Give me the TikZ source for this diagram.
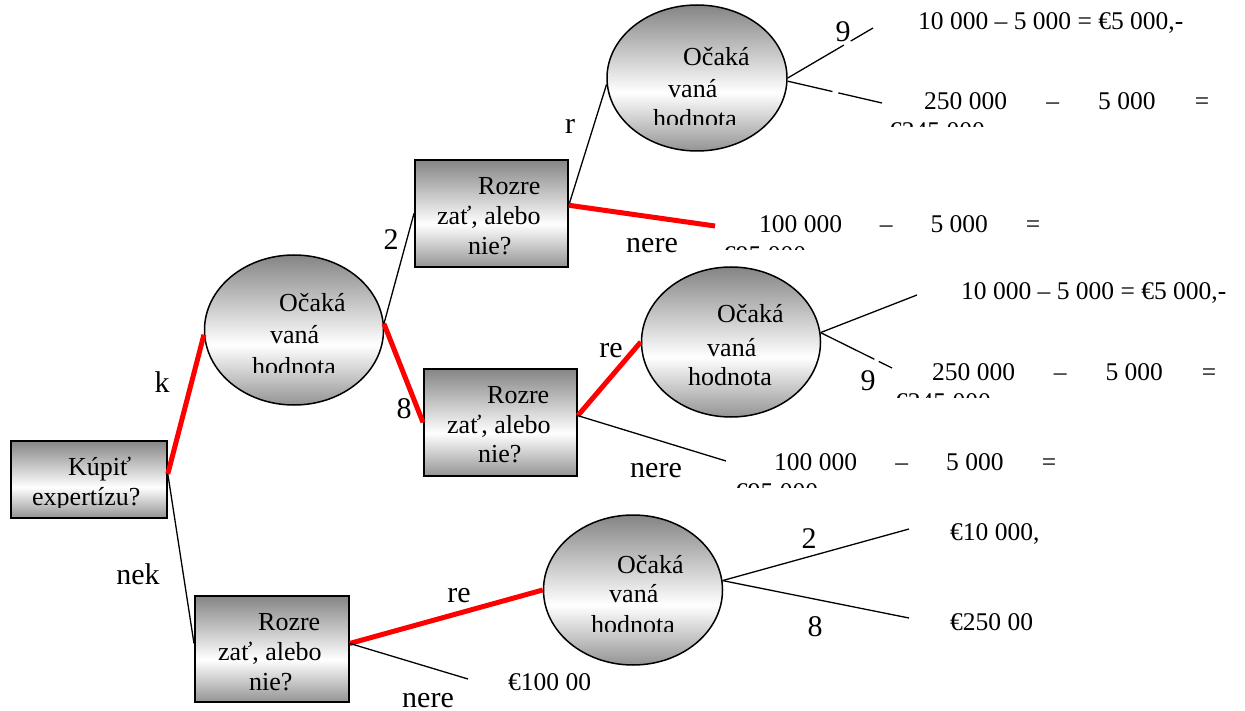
\documentclass[tikz,border=0pt]{standalone}
\usepackage{fontspec}
\setmainfont{Liberation Serif}
\usetikzlibrary{shapes.geometric}
% grey -> white -> grey vertical fill used by all decision and chance nodes
\pgfdeclareverticalshading{nodeshade}{100bp}{color(0bp)=(black!42); color(25bp)=(black!42); color(45bp)=(white); color(75bp)=(black!48); color(100bp)=(black!48)}

\begin{document}
\begin{tikzpicture}[x=1pt,y=-1pt,
  decision/.style={draw=black, line width=1.8pt, rectangle, shading=nodeshade, inner sep=0, anchor=north west},
  chance/.style={draw=black, line width=1.5pt, ellipse, shading=nodeshade, inner sep=0, minimum width=179pt, minimum height=150pt},
  conn/.style={line width=1.3pt, black},
  best/.style={line width=5pt, red},
  nodetext/.style={font=\fontsize{26}{30}\selectfont, inner sep=0, anchor=base west},
  pay/.style={font=\fontsize{25.5}{29}\selectfont, inner sep=0, anchor=base west},
  lab/.style={font=\fontsize{30}{36}\selectfont, inner sep=0, anchor=base}]

\useasboundingbox (0,0) rectangle (1245,711);

% ---- decision boxes ----
\node[decision, minimum width=156pt, minimum height=77pt] (A) at (10,440) {};
\node[decision, minimum width=153pt, minimum height=107pt] (B1) at (414,159) {};
\node[decision, minimum width=153pt, minimum height=107pt] (B2) at (423,368) {};
\node[decision, minimum width=154pt, minimum height=106pt] (B3) at (194,595) {};

% ---- chance nodes ----
\node[chance] (E1) at (294,330) {};
\node[chance, minimum width=180pt, minimum height=146pt] (E2) at (697,78) {};
\node[chance] (E3) at (731,342) {};
\node[chance] (E4) at (633,590) {};

% ---- free ends of branches ----
\coordinate (E2a) at (873,28);
\coordinate (E2b) at (882,103);
\coordinate (E3a) at (917,295);
\coordinate (E3b) at (892,368);
\coordinate (E4a) at (909,529);
\coordinate (E4b) at (909,618);
\coordinate (B1n) at (715,226);
\coordinate (B2n) at (726,461);
\coordinate (B3n) at (468,679);

% ---- connectors ----
\draw[conn] (A.4) -- (B3.176);
\draw[best] (A.4) -- (E1.183);
\draw[conn] (E1.4) -- (B1.west);
\draw[best] (E1.4) -- (B2.west);
\draw[conn] (B1.6) -- (E2.184);
\draw[best] (B1.6) -- (B1n);
\draw[best] (B2.5) -- (E3.west);
\draw[conn] (B2.5) -- (B2n);
\draw[best] (B3.4) -- (E4.west);
\draw[conn] (B3.4) -- (B3n);
\draw[conn, dash pattern=on 65pt off 8pt on 200pt] (E2.east) -- (E2a);
\draw[conn, dash pattern=on 46pt off 6pt on 200pt] (E2.-2) -- (E2b);
\draw[conn] (E3.6) -- (E3a);
\draw[conn, dash pattern=on 60pt off 5pt on 200pt] (E3.6) -- (E3b);
\draw[conn] (E4.6) -- (E4a);
\draw[conn] (E4.6) -- (E4b);

% ---- texts inside the boxes ----
\node[nodetext] (A1) at (68,475) {Kúpiť};
\begin{scope}
  \clip (10,480) rectangle (166,507);
  \node[nodetext] (A2) at (32,505) {expertízu?};
\end{scope}
\node[nodetext] (B1t1) at (478,195) {Rozre};
\node[nodetext] (B1t2) at (437,225) {zať, alebo};
\node[nodetext] (B1t3) at (468,255) {nie?};
\node[nodetext] (B2t1) at (487,403) {Rozre};
\node[nodetext] (B2t2) at (447,433) {zať, alebo};
\node[nodetext] (B2t3) at (478,462) {nie?};
\node[nodetext] (B3t1) at (258,630) {Rozre};
\node[nodetext] (B3t2) at (218,660) {zať, alebo};
\node[nodetext] (B3t3) at (249,690) {nie?};

% ---- texts inside the ellipses ----
\node[nodetext] (E1t1) at (279,312) {Očaká};
\node[nodetext] (E1t2) at (270,343) {vaná};
\begin{scope}
  \clip (230,350) rectangle (360,372);
  \node[nodetext] (E1t3) at (252,375) {hodnota};
\end{scope}
\node[nodetext] (E2t1) at (683,66) {Očaká};
\node[nodetext] (E2t2) at (668,98) {vaná};
\begin{scope}
  \clip (630,102) rectangle (760,125);
  \node[nodetext] (E2t3) at (653,128) {hodnota};
\end{scope}
\node[nodetext] (E3t1) at (717,323) {Očaká};
\node[nodetext] (E3t2) at (707,356) {vaná};
\node[nodetext] (E3t3) at (688,385) {hodnota};
\node[nodetext] (E4t1) at (617,573) {Očaká};
\node[nodetext] (E4t2) at (609,602) {vaná};
\begin{scope}
  \clip (570,608) rectangle (700,631);
  \node[nodetext] (E4t3) at (591,633) {hodnota};
\end{scope}

% ---- branch labels ----
\node[lab] (Lk) at (162,392) {k};
\node[lab] (Lnek) at (138,584) {nek};
\node[lab] (L2) at (391,250) {2};
\node[lab] (L8) at (404,418) {8};
\node[lab] (Lr) at (570,134) {r};
\node[lab] (Lnere1) at (652,253) {nere};
\node[lab] (Lre2) at (611,357) {re};
\node[lab] (Lnere2) at (656,477) {nere};
\node[lab] (Lre3) at (459,602) {re};
\node[lab] (Lnere3) at (428,707) {nere};
\node[lab] (L9a) at (843,42) {9};
\node[lab] (L9b) at (868,390) {9};
\node[lab] (L2b) at (809,548) {2};
\node[lab] (L8b) at (815,636) {8};

% ---- payoffs ----
\node[pay] (P1) at (918,30) {10 000 – 5 000 = €5 000,-};
\node[pay] (P2) at (924,110) {\hbox to 285pt{250 000\hfill–\hfill5 000\hfill=}};
\begin{scope}
  \clip (880,115) rectangle (1000,127);
  \node[pay] (P2b) at (889,140) {€245 000};
\end{scope}
\node[pay] (P3) at (759,233) {\hbox to 281pt{100 000\hfill–\hfill5 000\hfill=}};
\begin{scope}
  \clip (715,238) rectangle (820,250);
  \node[pay] (P3b) at (723,264) {€95 000};
\end{scope}
\node[pay] (P4) at (961,300) {10 000 – 5 000 = €5 000,-};
\node[pay] (P5) at (932,380) {\hbox to 284pt{250 000\hfill–\hfill5 000\hfill=}};
\begin{scope}
  \clip (885,385) rectangle (1005,397);
  \node[pay] (P5b) at (895,410) {€245 000};
\end{scope}
\node[pay] (P6) at (774,470) {\hbox to 282pt{100 000\hfill–\hfill5 000\hfill=}};
\begin{scope}
  \clip (725,475) rectangle (830,487);
  \node[pay] (P6b) at (735,500) {€95 000};
\end{scope}
\node[pay] (P7) at (950,540) {€10 000,};
\node[pay] (P8) at (950,630) {€250 00};
\node[pay] (P9) at (508,690) {€100 00};
\end{tikzpicture}
\end{document}
